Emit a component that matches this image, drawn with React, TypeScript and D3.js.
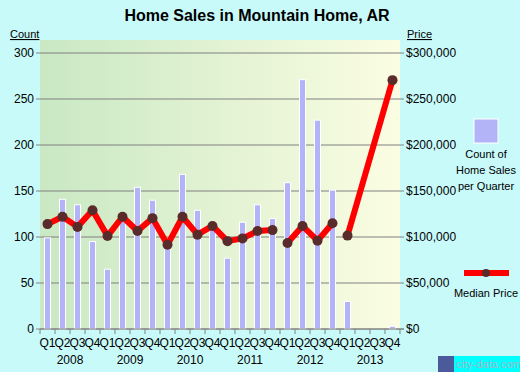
import * as d3 from "d3";

const years = ["2008", "2009", "2010", "2011", "2012", "2013"];
const quarters = ["Q1", "Q2", "Q3", "Q4"];
// count of home sales per quarter, 2008 Q1 .. 2013 Q4
const salesCount = [
  99, 141, 135, 95,
  65, 118, 154, 140,
  97, 168, 129, 112,
  77, 116, 135, 120,
  159, 271, 227, 151,
  30, 0, 0, 3,
];
// median price, null = no value
const medianPrice: (number | null)[] = [
  114000, 122000, 111000, 129000,
  101000, 122000, 106500, 120500,
  91500, 122000, 102500, 112000,
  95500, 98500, 106500, 107500,
  93500, 112000, 96000, 115000,
  101500, null, null, 270500,
];
// line is broken after these quarter indices
const lineBreaks = [15, 19];
const countTicks = [0, 50, 100, 150, 200, 250, 300];
const priceTicks = [0, 50000, 100000, 150000, 200000, 250000, 300000];

const W = 520;
const H = 372;
const left = 40;
const right = 400;
const top = 40;
const bottom = 329;

export default function App() {
  const keys = years.flatMap((y) => quarters.map((q) => `${y}-${q}`));
  const x = d3.scaleBand().domain(keys).range([left, right]);
  const yCount = d3.scaleLinear().domain([0, 300]).range([bottom, 53]);
  const yPrice = d3.scaleLinear().domain([0, 300000]).range([bottom, 53]);
  const fmt = (v: number) => "$" + d3.format(",")(v);

  // build segments
  const segments: { i: number; v: number }[][] = [];
  let cur: { i: number; v: number }[] = [];
  medianPrice.forEach((v, i) => {
    if (v != null) cur.push({ i, v });
    if (lineBreaks.includes(i)) {
      segments.push(cur);
      cur = [];
    }
  });
  segments.push(cur);

  const line = d3
    .line<{ i: number; v: number }>()
    .x((d) => x(keys[d.i])! + x.bandwidth() / 2)
    .y((d) => yPrice(d.v));

  const font = "Arial, 'Liberation Sans', sans-serif";

  return (
    <svg
      width={W}
      height={H}
      style={{ position: "absolute", left: 0, top: 0, fontFamily: font }}
    >
      <defs>
        <linearGradient id="plotbg" x1="0" x2="1" y1="0" y2="0">
          <stop offset="0%" stopColor="#c9e8c3" />
          <stop offset="100%" stopColor="#fbfde2" />
        </linearGradient>
      </defs>
      <rect width={W} height={H} fill="#c8fafa" />
      <rect x={left} y={top} width={right - left} height={bottom - top} fill="url(#plotbg)" />

      <text x={W / 2 - 3} y={21} textAnchor="middle" fontSize={16} fontWeight="bold">
        Home Sales in Mountain Home, AR
      </text>

      {/* grid */}
      {countTicks.map((t) => (
        <g key={t}>
          <line x1={36} x2={404} y1={yCount(t)} y2={yCount(t)} stroke="#808080" strokeWidth={1} />
          <text x={34} y={yCount(t) + 4} textAnchor="end" fontSize={12}>{t}</text>
        </g>
      ))}
      {priceTicks.map((t) => (
        <text key={t} x={406} y={yPrice(t) + 4} fontSize={12}>{fmt(t)}</text>
      ))}
      <text x={10} y={38} fontSize={11} textDecoration="underline">Count</text>
      <text x={407} y={38} fontSize={11} textDecoration="underline">Price</text>

      {/* bars */}
      {salesCount.map((v, i) =>
        v > 0 ? (
          <rect
            key={i}
            x={x(keys[i])! + x.bandwidth() / 2 - 3}
            y={yCount(v)}
            width={6}
            height={bottom - yCount(v)}
            fill="#b3b3f8"
            stroke="#ffffff"
            strokeWidth={1}
          />
        ) : null
      )}

      {/* x axis */}
      <line x1={left} x2={right + 4} y1={bottom} y2={bottom} stroke="#808080" />
      {d3.range(keys.length + 1).map((i) => (
        <line key={i} x1={left + i * x.step()} x2={left + i * x.step()} y1={bottom} y2={bottom + 5} stroke="#808080" />
      ))}
      {keys.map((k, i) => (
        <text key={k} x={x(k)! + x.bandwidth() / 2} y={347} textAnchor="middle" fontSize={12}>
          {quarters[i % 4]}
        </text>
      ))}
      {years.map((y) => (
        <text key={y} x={x(`${y}-Q2`)! + x.step()} y={364} textAnchor="middle" fontSize={12}>
          {y}
        </text>
      ))}

      {/* median price */}
      {segments.map((s, j) => (
        <path key={j} d={line(s) ?? ""} fill="none" stroke="#ff0000" strokeWidth={6} strokeLinejoin="round" />
      ))}
      {medianPrice.map((v, i) =>
        v != null ? (
          <circle key={i} cx={x(keys[i])! + x.bandwidth() / 2} cy={yPrice(v)} r={5} fill="#5a2b2b" />
        ) : null
      )}

      {/* legend */}
      <rect x={474} y={119} width={24} height={24} fill="#b3b3f8" stroke="#ffffff" strokeWidth={1} />
      <text x={486} y={158} textAnchor="middle" fontSize={11}>Count of</text>
      <text x={486} y={174} textAnchor="middle" fontSize={11}>Home Sales</text>
      <text x={486} y={190} textAnchor="middle" fontSize={11}>per Quarter</text>
      <line x1={464} x2={509} y1={273} y2={273} stroke="#ff0000" strokeWidth={6} />
      <circle cx={486} cy={273} r={4} fill="#5a2b2b" />
      <text x={486} y={297} textAnchor="middle" fontSize={11}>Median Price</text>

      {/* watermark */}
      <rect x={438} y={356} width={16} height={16} fill="#4a5a9a" />
      <rect x={454} y={356} width={66} height={16} fill="#00ffff" />
      <text x={456} y={368} fontSize={11} fill="#a0b8c8">city-data.com</text>
    </svg>
  );
}
